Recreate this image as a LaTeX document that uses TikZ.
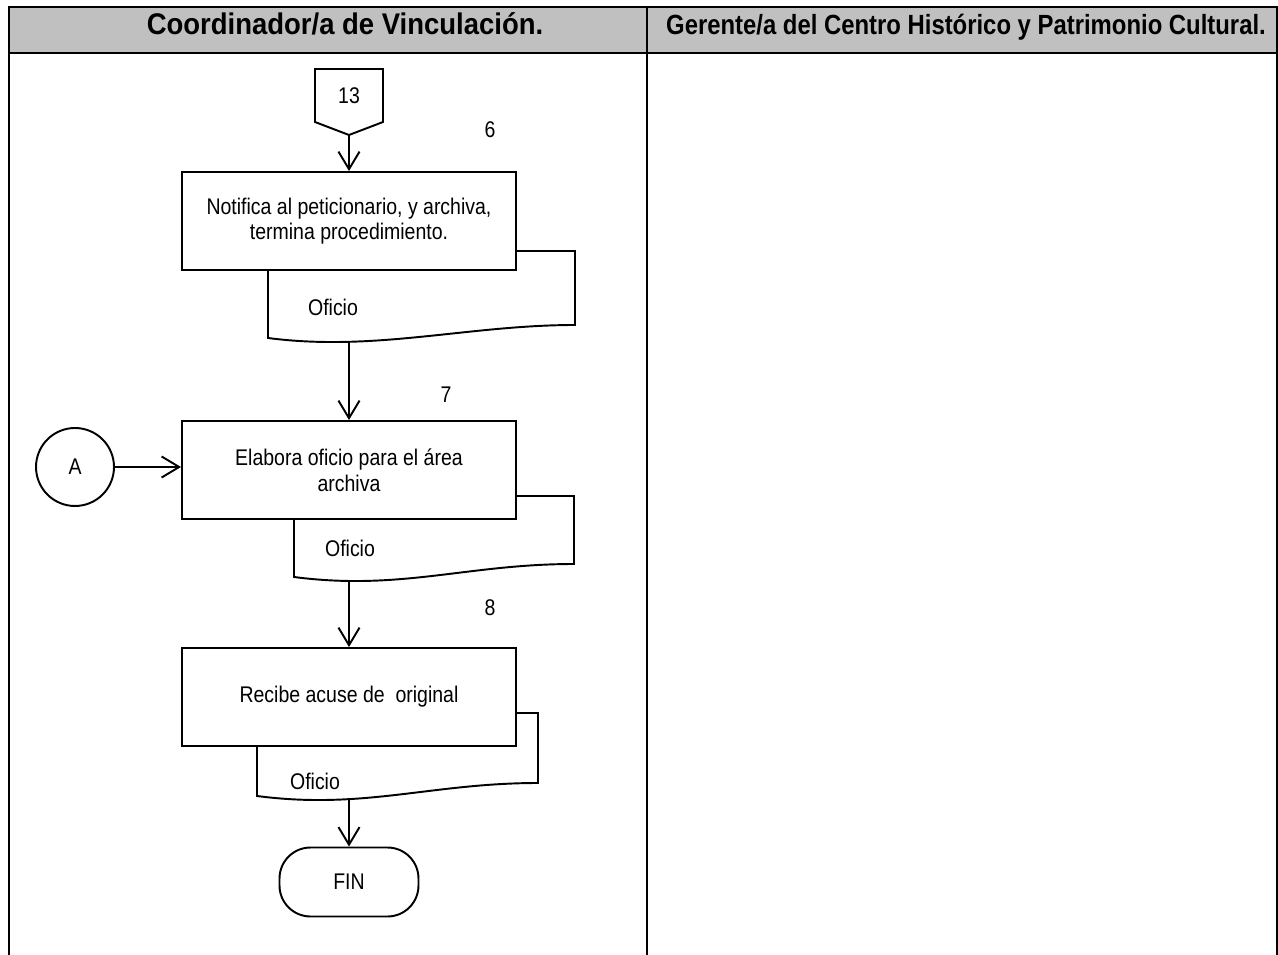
\documentclass[tikz,border=0pt]{standalone}
\usepackage{fontspec}
\setmainfont{Liberation Sans}[FakeStretch=0.86]
\newfontfamily\anchafont{Liberation Sans}[FakeStretch=0.92]
\usetikzlibrary{positioning,arrows.meta}
\definecolor{encabezado}{RGB}{192,192,192}

\begin{document}
\begin{tikzpicture}[x=0.02cm,y=-0.02cm,
  every node/.style={font=\fontsize{12.9}{14.6}\selectfont},
  linea/.style={line width=1.1pt},
  flecha/.style={linea,-{Straight Barb[length=10pt,width=12pt]}},
  caja/.style={linea,draw,fill=white,minimum width=6.68cm,minimum height=1.96cm,align=center},
  doc/.style={linea,draw,fill=white},
  tabla/.style={line width=1.4pt},
  titulo/.style={anchor=base,font=\fontsize{15.8}{18}\selectfont\bfseries}]
  \def\oficio#1#2#3#4#5#6#7{
    \draw[doc] (#2,#4) -- (#3,#4) -- (#3,#5-13)
      .. controls (#3-107,#5-13) and (#2+107,#5+14) .. (#2,#5) -- cycle;
    \coordinate (#1s) at (349,#5+4);
    \node (#1) at (#6,#7) {Oficio};
  }
  \useasboundingbox (0,0) rectangle (1278,955);

  %%% tabla
  \fill[encabezado] (9,7) rectangle (1277,53);
  \draw[tabla] (9,7) rectangle (1277,53);
  \draw[tabla] (9,53) -- (9,955) (647,7) -- (647,955) (1277,53) -- (1277,955);
  \node[titulo] (hcoord) at (345,35) {\anchafont\fontsize{17}{19}\selectfont\bfseries Coordinador/a de Vinculación.};
  \node[titulo] (hgerente) at (966,35) {Gerente/a del Centro Histórico y Patrimonio Cultural.};

  %%% conector 13
  \draw[linea] (315,69) -- (383,69) -- (383,122) -- (349,135) -- (315,122) -- cycle;
  \node (c13) at (349,96) {13};
  \coordinate (c13s) at (349,135);

  %%% documentos
  \oficio{of1}{268}{575}{251}{338}{333}{307}
  \oficio{of2}{294}{574}{496}{577}{350}{548}
  \oficio{of3}{257}{538}{713}{796}{315}{781}

  %%% actividades
  \node[caja] (p1) at (349,221) {Notifica al peticionario, y archiva,\\termina procedimiento.};
  \node[caja] (p2) at (349,470) {Elabora oficio para el área\\archiva};
  \node[caja] (p3) at (349,697) {Recibe acuse de~~original};
  \node (n6) at (490,130) {6};
  \node (n7) at (446,395) {7};
  \node (n8) at (490,608) {8};

  \node[linea,draw,circle,minimum size=1.56cm] (cA) at (75,467) {A};
  \node[linea,draw,rounded corners=0.62cm,minimum width=2.78cm,minimum height=1.38cm] (fin) at (349,882) {FIN};

  %%% flechas
  \draw[flecha] (c13s) -- (p1);
  \draw[flecha] (of1s) -- (p2);
  \draw[flecha] (cA) -- (cA -| p2.west);
  \draw[flecha] (of2s) -- (p3);
  \draw[flecha] (of3s) -- (fin);
\end{tikzpicture}
\end{document}
